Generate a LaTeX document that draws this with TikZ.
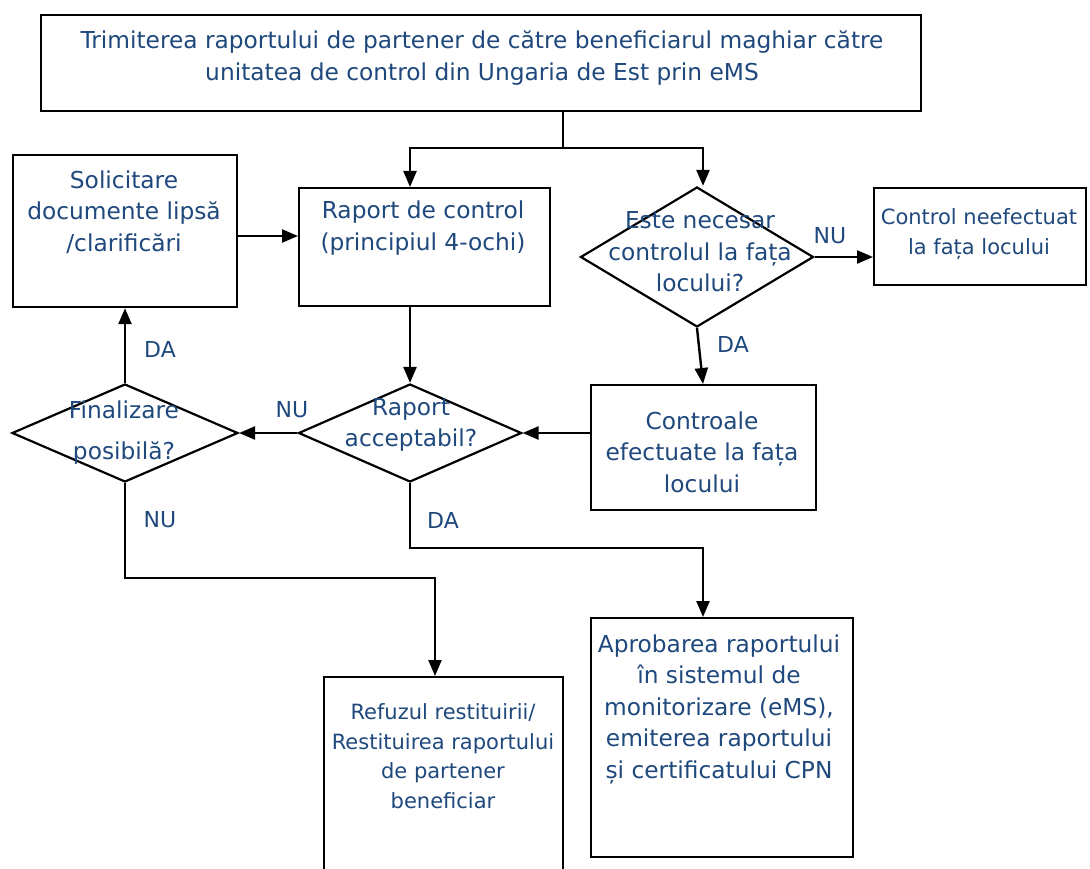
\documentclass[tikz,border=0pt]{standalone}
\usepackage{fontspec}
\setmainfont{DejaVu Sans}
\usetikzlibrary{shapes.geometric,arrows.meta}
\definecolor{txtblue}{RGB}{31,73,125}
\tikzset{
  box/.style={draw,line width=2.2pt,inner sep=0pt,anchor=north west,fill=white},
  dia/.style={draw,line width=2.2pt,diamond,inner sep=0pt},
  txt/.style={text=txtblue,align=center,font=\fontsize{23.3}{31.5}\selectfont,inner sep=0pt},
  stxt/.style={text=txtblue,align=center,font=\fontsize{21}{29.5}\selectfont,inner sep=0pt},
  lab/.style={text=txtblue,font=\fontsize{22}{26}\selectfont,inner sep=0pt},
  conn/.style={line width=2.4pt},
  arr/.style={conn,-{Triangle[length=16pt,width=13pt]}}}
\begin{document}
\begin{tikzpicture}[x=1pt,y=-1pt]
\useasboundingbox (0,0) rectangle (1090,869);
\clip (0,0) rectangle (1090,869);
% boxes
\node[box,minimum width=880pt,minimum height=96pt] (top) at (40,14) {};
\node[box,minimum width=224pt,minimum height=152pt] (sol) at (12,154) {};
\node[box,minimum width=251pt,minimum height=118pt] (rap) at (298,187) {};
\node[box,minimum width=212pt,minimum height=97pt] (cne) at (873,187) {};
\node[box,minimum width=225pt,minimum height=125pt] (cef) at (590,384) {};
\node[box,minimum width=239pt,minimum height=220pt] (ref) at (323,676) {};
\node[box,minimum width=262pt,minimum height=239pt] (apr) at (590,617) {};
% diamonds
\node[dia,minimum width=233pt,minimum height=140pt,aspect=1.664] (d1) at (697,257) {};
\node[dia,minimum width=223pt,minimum height=98pt,aspect=2.276] (d2) at (410,433) {};
\node[dia,minimum width=226pt,minimum height=98pt,aspect=2.306] (d3) at (125,433) {};
% texts
\node[txt] (ttop) at (482,58) {Trimiterea raportului de partener de către beneficiarul maghiar către\\unitatea de control din Ungaria de Est prin eMS};
\node[txt] (tsol) at (124,212) {Solicitare\\documente lipsă\\/clarificări};
\node[txt] (trap) at (423,228) {Raport de control\\(principiul 4-ochi)};
\node[stxt] (tcne) at (979,234) {Control neefectuat\\la fața locului};
\node[txt] (tcef) at (702,452) {Controale\\efectuate la fața\\locului};
\node[txt] (td1) at (700,252) {Este necesar\\controlul la fața\\locului?};
\node[txt] (td2) at (411,425) {Raport\\acceptabil?};
\node[txt,font=\fontsize{23.3}{41}\selectfont] (td3) at (124,433) {Finalizare\\posibilă?};
\node[stxt] (tref) at (443,756) {Refuzul restituirii/\\Restituirea raportului\\de partener\\beneficiar};
\node[txt] (tapr) at (719,709) {Aprobarea raportului\\în sistemul de\\monitorizare (eMS),\\emiterea raportului\\și certificatului CPN};
% connectors
\coordinate (split) at (563,148);
\coordinate (cl) at (410,148);
\coordinate (cr) at (703,148);
\coordinate (b3) at (125,578);
\coordinate (b3r) at (435,578);
\coordinate (b2) at (410,548);
\coordinate (b2r) at (703,548);
\draw[conn] (top.south -| split) -- (split);
\draw[arr] (split) -| (cl |- rap.north);
\draw[arr] (split) -| (cr |- d1.north);
\draw[arr] (sol.east |- 0,236) -- (rap.west |- 0,236);
\draw[arr] (d1.east) -- (cne.west |- d1.east);
\draw[arr] (d1.south) -- (cr |- cef.north);
\draw[arr] (cef.west |- d2.east) -- (d2.east);
\draw[arr] (cl |- rap.south) -- (d2.north);
\draw[arr] (d2.west) -- (d3.east);
\draw[arr] (d3.north) -- (d3.north |- sol.south);
\draw[arr] (d3.south) -- (b3) -- (b3r) -- (b3r |- ref.north);
\draw[arr] (d2.south) -- (b2) -- (b2r) -- (b2r |- apr.north);
% labels
\node[lab] (lnu1) at (830,236) {NU};
\node[lab] (lda1) at (733,344) {DA};
\node[lab] (lnu2) at (292,410) {NU};
\node[lab] (lda2) at (160,349) {DA};
\node[lab] (lnu3) at (160,520) {NU};
\node[lab] (lda3) at (443,520) {DA};
\end{tikzpicture}
\end{document}
